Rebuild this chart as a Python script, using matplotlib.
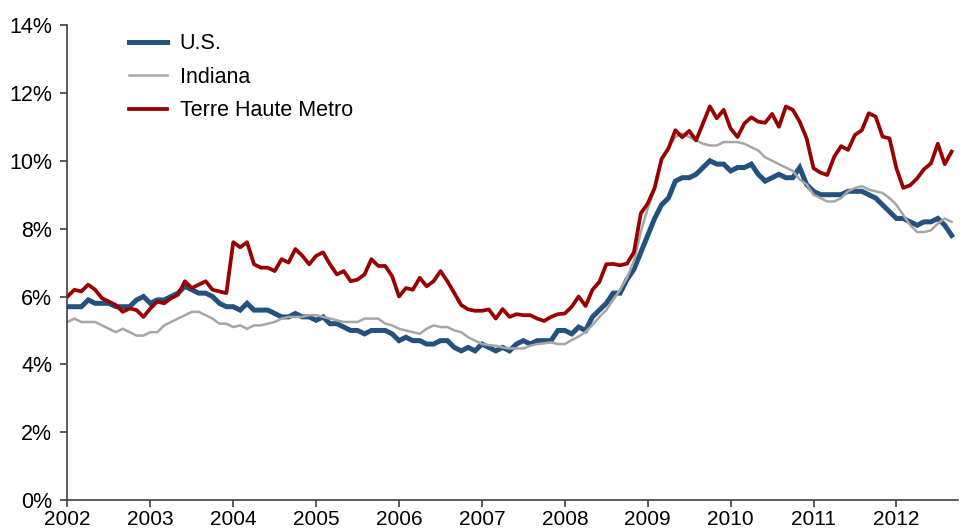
import numpy as np
import matplotlib
matplotlib.use('Agg')
import matplotlib.pyplot as plt

# monthly unemployment rate, Jan 2002 - Sep 2012 (%)
us = [5.7, 5.7, 5.7, 5.9, 5.8, 5.8, 5.8, 5.7, 5.7, 5.7, 5.9, 6.0,
      5.8, 5.9, 5.9, 6.0, 6.1, 6.3, 6.2, 6.1, 6.1, 6.0, 5.8, 5.7,
      5.7, 5.6, 5.8, 5.6, 5.6, 5.6, 5.5, 5.4, 5.4, 5.5, 5.4, 5.4,
      5.3, 5.4, 5.2, 5.2, 5.1, 5.0, 5.0, 4.9, 5.0, 5.0, 5.0, 4.9,
      4.7, 4.8, 4.7, 4.7, 4.6, 4.6, 4.7, 4.7, 4.5, 4.4, 4.5, 4.4,
      4.6, 4.5, 4.4, 4.5, 4.4, 4.6, 4.7, 4.6, 4.7, 4.7, 4.7, 5.0,
      5.0, 4.9, 5.1, 5.0, 5.4, 5.6, 5.8, 6.1, 6.1, 6.5, 6.8, 7.3,
      7.8, 8.3, 8.7, 8.9, 9.4, 9.5, 9.5, 9.6, 9.8, 10.0, 9.9, 9.9,
      9.7, 9.8, 9.8, 9.9, 9.6, 9.4, 9.5, 9.6, 9.5, 9.5, 9.8, 9.3,
      9.1, 9.0, 9.0, 9.0, 9.0, 9.1, 9.1, 9.1, 9.0, 8.9, 8.7, 8.5,
      8.3, 8.3, 8.2, 8.1, 8.2, 8.2, 8.3, 8.1, 7.8]

indiana = [5.25, 5.35, 5.25, 5.25, 5.25, 5.15, 5.05, 4.95, 5.05, 4.95, 4.85, 4.85,
           4.95, 4.95, 5.15, 5.25, 5.35, 5.45, 5.55, 5.55, 5.45, 5.35, 5.2, 5.2,
           5.1, 5.15, 5.05, 5.15, 5.15, 5.2, 5.25, 5.35, 5.4, 5.4, 5.4, 5.45,
           5.45, 5.4, 5.35, 5.3, 5.25, 5.25, 5.25, 5.35, 5.35, 5.35, 5.2, 5.15,
           5.05, 5.0, 4.95, 4.9, 5.05, 5.15, 5.1, 5.1, 5.0, 4.95, 4.8, 4.7,
           4.6, 4.57, 4.55, 4.5, 4.47, 4.47, 4.47, 4.55, 4.6, 4.62, 4.65, 4.6,
           4.6, 4.72, 4.82, 4.96, 5.16, 5.4, 5.6, 5.9, 6.2, 6.55, 7.05, 7.9,
           8.6, 9.15, 10.0, 10.4, 10.7, 10.8, 10.7, 10.6, 10.5, 10.45, 10.45, 10.55,
           10.55, 10.55, 10.5, 10.4, 10.3, 10.1, 10.0, 9.9, 9.8, 9.7, 9.45, 9.3,
           9.0, 8.9, 8.8, 8.8, 8.9, 9.1, 9.2, 9.25, 9.15, 9.1, 9.05, 8.9,
           8.7, 8.4, 8.1, 7.9, 7.9, 7.95, 8.15, 8.3, 8.2]

terre_haute = [6.0, 6.2, 6.15, 6.35, 6.2, 5.95, 5.85, 5.75, 5.55, 5.65, 5.6, 5.4,
               5.65, 5.85, 5.8, 5.95, 6.05, 6.45, 6.25, 6.35, 6.45, 6.2, 6.15, 6.1,
               7.6, 7.45, 7.6, 6.95, 6.85, 6.85, 6.75, 7.1, 7.0, 7.4, 7.2, 6.95,
               7.2, 7.3, 6.95, 6.65, 6.75, 6.45, 6.5, 6.65, 7.1, 6.9, 6.9, 6.6,
               6.0, 6.25, 6.2, 6.55, 6.3, 6.45, 6.75, 6.45, 6.1, 5.75, 5.62, 5.58,
               5.58, 5.62, 5.35, 5.63, 5.4, 5.48, 5.45, 5.45, 5.35, 5.28, 5.4, 5.48,
               5.5, 5.7, 6.0, 5.72, 6.2, 6.43, 6.95, 6.96, 6.92, 6.97, 7.3, 8.45,
               8.74, 9.2, 10.05, 10.36, 10.9, 10.69, 10.88, 10.6, 11.1, 11.6, 11.25, 11.5,
               10.95, 10.7, 11.1, 11.28, 11.15, 11.12, 11.38, 11.0, 11.6, 11.5, 11.15, 10.66,
               9.78, 9.65, 9.58, 10.12, 10.43, 10.32, 10.76, 10.9, 11.4, 11.3, 10.71, 10.66,
               9.78, 9.2, 9.28, 9.48, 9.75, 9.92, 10.5, 9.9, 10.27]

years = 2002 + np.arange(len(us)) / 12
year_ticks = list(range(2002, 2013))
pct_ticks = list(range(0, 15, 2))

plt.rcParams['font.family'] = ['Liberation Sans', 'DejaVu Sans']

fig = plt.figure(figsize=(9.64, 5.31), dpi=100)
ax = fig.add_axes([0.070, 0.058, 0.9235, 0.895])

ax.plot(years, us, color='#245280', lw=3.6, label='U.S.', solid_joinstyle='miter')
ax.plot(years, indiana, color='#a6a6a6', lw=1.8, label='Indiana')
ax.plot(years, terre_haute, color='#990000', lw=2.7, label='Terre Haute Metro')

ax.set_xlim(2002, 2012.74)
ax.set_ylim(0, 14)
ax.set_xticks(year_ticks)
ax.set_xticklabels([str(y) for y in year_ticks])
ax.set_yticks(pct_ticks)
ax.set_yticklabels([f'{p}%' for p in pct_ticks])

for s in ['top', 'right']:
    ax.spines[s].set_visible(False)
for s in ['left', 'bottom']:
    ax.spines[s].set_color('#404040')
    ax.spines[s].set_linewidth(1.2)
ax.tick_params(axis='both', colors='#404040', width=1.2, length=5, labelsize=15.5,
               labelcolor='black')
ax.tick_params(axis='x', pad=2, labelsize=15)
ax.tick_params(axis='y', pad=6)

ax.legend(loc='upper left', bbox_to_anchor=(0.134, 0.937), bbox_transform=fig.transFigure,
          frameon=False, fontsize=15.5, handlelength=1.75, handletextpad=0.6,
          labelspacing=0.58, borderpad=0, borderaxespad=0)

fig.savefig('out.png', dpi=100)
